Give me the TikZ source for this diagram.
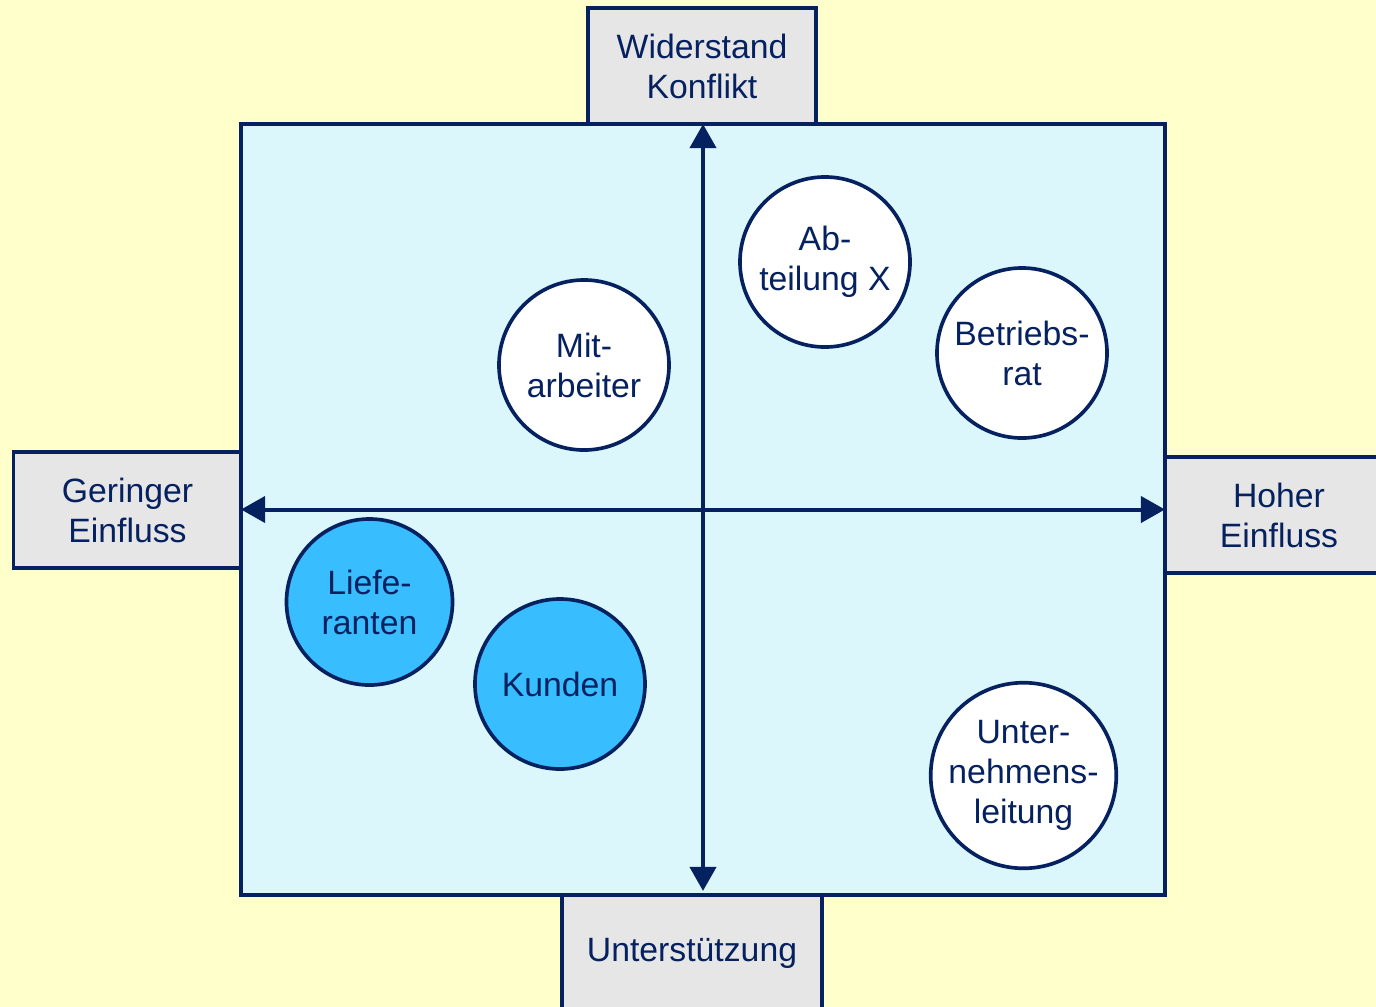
\documentclass[tikz,border=0pt]{standalone}
\usepackage{fontspec}
\setmainfont{Liberation Sans}
\usepackage{tikz}
\usetikzlibrary{arrows.meta}
\definecolor{navy}{HTML}{06215F}
\definecolor{paper}{HTML}{FFFFCC}
\definecolor{fieldbg}{HTML}{DBF7FC}
\definecolor{boxgray}{HTML}{E6E6E6}
\definecolor{bluefill}{HTML}{38BDFF}
\tikzset{
  txt/.style={font=\fontsize{24}{28.5}\selectfont,text=navy,align=center},
  field/.style={rectangle,draw=navy,line width=2.6pt,fill=fieldbg,inner sep=0pt,
                minimum width=23.1cm,minimum height=19.275cm},
  pole/.style={txt,rectangle,draw=navy,line width=2.6pt,fill=boxgray,inner sep=0pt,
               minimum width=5.7cm,minimum height=2.9cm},
  actor/.style={txt,circle,draw=navy,line width=2.6pt,fill=white,inner sep=0pt,
                minimum size=4.25cm},
  actorb/.style={actor,fill=bluefill},
  axis/.style={{Triangle[width=6.5mm,length=6mm]}-{Triangle[width=6.5mm,length=6mm]},
               draw=navy,line width=2.85pt},
}

\begin{document}
\begin{tikzpicture}[x=0.025cm,y=-0.025cm]
  \useasboundingbox (0,0) rectangle (1376,1007);
  \fill[paper] (0,0) rectangle (1376,1007);
  \clip (0,0) rectangle (1376,1007);
  % ---- poles ----
  \node[pole] (konflikt) at (702,66) {Widerstand\\Konflikt};
  \node[pole] (gering) at (127.5,510) {Geringer\\Einfluss};
  \node[pole] (hoch) at (1279,515) {Hoher\\Einfluss};
  \node[pole,minimum width=6.5cm] (support) at (692,953) {Unterstützung};
  % ---- field ----
  \node[field] (feld) at (703,509.5) {};
  % ---- axes ----
  \draw[axis] ([yshift=-0.5mm]feld.north) -- ([yshift=1.5mm]feld.south);
  \draw[axis] ([xshift=0.5mm]feld.west) -- ([xshift=-0.5mm]feld.east);
  % ---- actors ----
  \node[actor] (mitarb) at (584,365) {Mit-\\arbeiter};
  \node[actor] (abt) at (825,262) {Ab-\\teilung X};
  \node[actor] (br) at (1022,353) {Betriebs-\\rat};
  \node[actorb,minimum size=4.15cm] (lief) at (369.5,602) {Liefe-\\ranten};
  \node[actorb] (kunden) at (560,684) {Kunden};
  \node[actor,minimum size=4.55cm] (ul) at (1023.5,775.5) {Unter-\\nehmens-\\leitung};
\end{tikzpicture}
\end{document}
